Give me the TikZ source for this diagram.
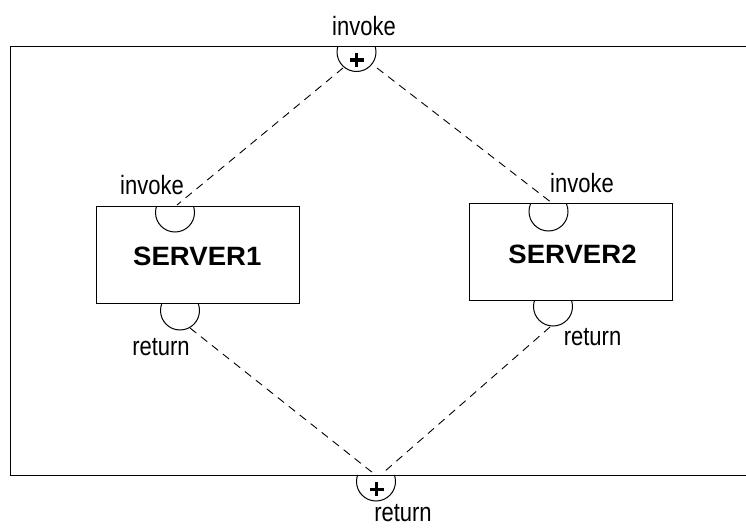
\documentclass[tikz,border=0pt]{standalone}
\usepackage{fontspec}
\setmainfont{Liberation Sans}
\newfontfamily\labelfont[FakeStretch=0.83]{Liberation Sans}
\newfontfamily\namefont[FakeStretch=1.04]{Liberation Sans}
\begin{document}
\begin{tikzpicture}[x=1pt,y=-1pt,
  frame/.style={line width=1.4pt},
  serverbox/.style={draw,line width=1pt,minimum width=203pt,minimum height=97pt,inner sep=0pt},
  servername/.style={anchor=base,inner sep=0pt,font=\namefont\fontsize{26.5}{30}\selectfont\bfseries},
  portlabel/.style={anchor=base,inner sep=0pt,font=\labelfont\fontsize{26.5}{30}\selectfont},
  portarc/.style={line width=1pt},
  wire/.style={line width=0.9pt,dash pattern=on 8pt off 6pt},
  plus/.style={line width=3pt}]
\useasboundingbox (0,0) rectangle (746,527);

% outer composite frame (open on the right)
\draw[frame] (760,46.7) -- (10.5,46.7) -- (10.5,475.5) -- (760,475.5);

% the two servers
\node[serverbox] (s1) at (197.5,254.5) {};
\node[serverbox] (s2) at (570.5,251.5) {};
\node[servername] (s1name) at (197.3,265) {SERVER1};
\node[servername] (s2name) at (572.5,263) {SERVER2};

% ports: circles clipped to the side beyond the edge
\begin{scope}
  \clip (300,46.7) rectangle (420,80);
  \draw[portarc] (356.5,52) circle[radius=19.5];
\end{scope}
\begin{scope}
  \clip (140,206) rectangle (210,240);
  \draw[portarc] (175,212.5) circle[radius=19.5];
\end{scope}
\begin{scope}
  \clip (140,303) rectangle (220,340);
  \draw[portarc] (180,310.5) circle[radius=19.5];
\end{scope}
\begin{scope}
  \clip (510,203) rectangle (590,240);
  \draw[portarc] (548.5,211.5) circle[radius=19.5];
\end{scope}
\begin{scope}
  \clip (520,300) rectangle (590,335);
  \draw[portarc] (553,306.5) circle[radius=19.5];
\end{scope}
\begin{scope}
  \clip (340,475.5) rectangle (420,510);
  \draw[portarc] (376,481.5) circle[radius=19.5];
\end{scope}

% plus marks of the fork and join ports
\draw[plus] (349.7,60) -- (363.7,60) (356.7,53) -- (356.7,67);
\draw[plus] (369.7,489) -- (383.7,489) (376.7,482) -- (376.7,496);

% wire end points on the ports
\coordinate (forkL) at (343,68);
\coordinate (forkR) at (377,68);
\coordinate (s1in) at (177,205);
\coordinate (s2in) at (552,203);
\coordinate (s1out) at (190,328);
\coordinate (s2out) at (550,327);
\coordinate (joinL) at (373,473);
\coordinate (joinR) at (384,472);

\draw[wire] (forkL) -- (s1in);
\draw[wire] (forkR) -- (s2in);
\draw[wire] (s1out) -- (joinL);
\draw[wire] (s2out) -- (joinR);

% port labels
\node[portlabel] (lTopIn) at (364,36) {invoke};
\node[portlabel] (lS1in) at (152,194) {invoke};
\node[portlabel] (lS1out) at (161,355) {return};
\node[portlabel] (lS2in) at (582,192) {invoke};
\node[portlabel] (lS2out) at (592.5,345) {return};
\node[portlabel] (lBotOut) at (403,521) {return};
\end{tikzpicture}
\end{document}
